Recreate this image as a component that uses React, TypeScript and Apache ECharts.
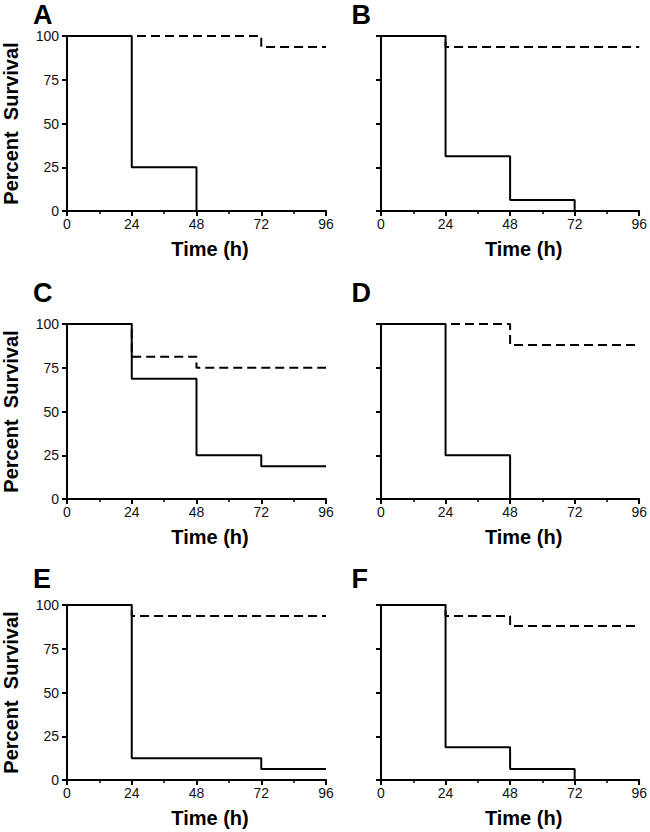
import React, { useEffect, useRef } from "react";
import * as echarts from "echarts";

const FONT = "'Liberation Sans', Arial, Helvetica, sans-serif";

// Panel letters
const letters = ["A", "B", "C", "D", "E", "F"];

// Axis settings (hours / percent)
const timeMax = 96;
const timeStep = 24;
const pctMax = 100;
const pctStep = 25;

// Survival data: [time (h), percent survival]
const solidA = [[0, 100], [24, 25], [48, 0]];
const dashedA = [[0, 100], [72, 93.75], [96, 93.75]];
const solidB = [[0, 100], [24, 31.25], [48, 6.25], [72, 0]];
const dashedB = [[0, 100], [24, 93.75], [96, 93.75]];
const solidC = [[0, 100], [24, 68.75], [48, 25], [72, 18.75], [96, 18.75]];
const dashedC = [[0, 100], [24, 81.25], [48, 75], [96, 75]];
const solidD = [[0, 100], [24, 25], [48, 0]];
const dashedD = [[0, 100], [48, 88], [96, 88]];
const solidE = [[0, 100], [24, 12.5], [72, 6.25], [96, 6.25]];
const dashedE = [[0, 100], [24, 93.75], [96, 93.75]];
const solidF = [[0, 100], [24, 18.75], [48, 6.25], [72, 0]];
const dashedF = [[0, 100], [24, 93.75], [48, 88], [96, 88]];

const solids = [solidA, solidB, solidC, solidD, solidE, solidF];
const dashes = [dashedA, dashedB, dashedC, dashedD, dashedE, dashedF];

export default function App() {
  const ref = useRef<HTMLDivElement>(null);
  useEffect(() => {
    const chart = echarts.init(ref.current!, null, { renderer: "svg" });
    const colLeft = [63, 381];
    const colWidth = [263, 261];
    const rowTop = [36, 324, 605];
    const rowHeight = 175;
    const letterY = [14, 292.5, 578.5];
    const letterX = [33, 351.5];
    const lineStyle = { color: "#000", width: 2 };

    const grid: any[] = [];
    const xAxis: any[] = [];
    const yAxis: any[] = [];
    const series: any[] = [];
    const graphic: any[] = [];

    letters.forEach((letter, i) => {
      const col = i % 2;
      const row = Math.floor(i / 2);
      grid.push({
        left: colLeft[col],
        top: rowTop[row],
        width: colWidth[col],
        height: rowHeight,
        containLabel: false,
      });
      xAxis.push({
        gridIndex: i,
        type: "value",
        min: 0,
        max: timeMax,
        interval: timeStep,
        axisLine: { show: true, onZero: false, lineStyle },
        axisTick: { show: true, length: 5, lineStyle },
        minorTick: { show: true, splitNumber: 2, length: 3, lineStyle: { color: "#000", width: 1.5 } },
        splitLine: { show: false },
        minorSplitLine: { show: false },
        axisLabel: { fontSize: 14, color: "#111", margin: 6, fontFamily: FONT },
        name: "Time (h)",
        nameLocation: "middle",
        nameGap: 28,
        nameTextStyle: {
          fontSize: 20,
          fontWeight: "bold",
          color: "#000",
          fontFamily: FONT,
          padding: [0, 0, 0, 27],
        },
      });
      yAxis.push({
        gridIndex: i,
        type: "value",
        min: 0,
        max: pctMax,
        interval: pctStep,
        axisLine: { show: true, onZero: false, lineStyle },
        axisTick: { show: true, length: 5, lineStyle },
        splitLine: { show: false },
        axisLabel: { show: col === 0, fontSize: 14, color: "#111", margin: 8, fontFamily: FONT },
        name: col === 0 ? "Percent  Survival" : "",
        nameLocation: "middle",
        nameGap: 46,
        nameTextStyle: {
          fontSize: 20,
          fontWeight: "bold",
          color: "#000",
          fontFamily: FONT,
        },
      });
      series.push({
        type: "line",
        xAxisIndex: i,
        yAxisIndex: i,
        step: "end",
        data: dashes[i],
        symbol: "none",
        z: 2,
        lineStyle: { color: "#000", width: 2, type: [9, 5] },
      });
      series.push({
        type: "line",
        xAxisIndex: i,
        yAxisIndex: i,
        step: "end",
        data: solids[i],
        symbol: "none",
        z: 3,
        lineStyle: { color: "#000", width: 2, type: "solid" },
      });
      graphic.push({
        type: "text",
        left: letterX[col],
        top: letterY[row] - 13,
        style: {
          text: letter,
          fill: "#000",
          fontSize: 27,
          fontWeight: "bold",
          fontFamily: FONT,
        },
      });
    });

    chart.setOption({
      animation: false,
      backgroundColor: "#fff",
      grid,
      xAxis,
      yAxis,
      series,
      graphic,
    });
    return () => chart.dispose();
  }, []);
  return (
    <div
      ref={ref}
      style={{ position: "absolute", left: 0, top: 0, width: 650, height: 832, background: "#fff" }}
    />
  );
}
